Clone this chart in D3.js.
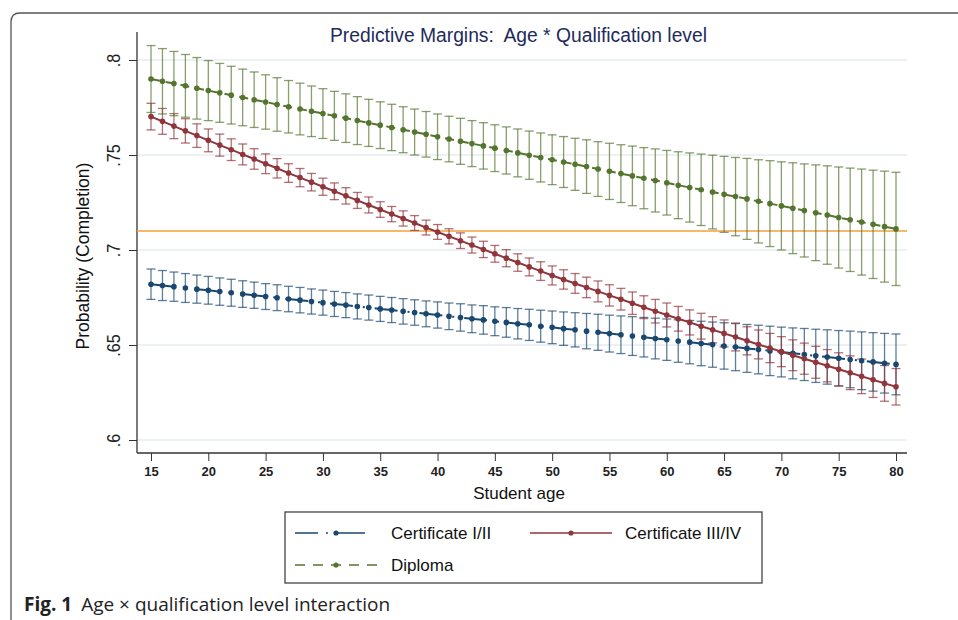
<!DOCTYPE html>
<html>
<head>
<meta charset="utf-8">
<script src="https://cdn.jsdelivr.net/npm/d3@7"></script>
<style>
body{margin:0;background:#fff;}
svg{display:block;}
</style>
</head>
<body>
<svg id="chart" width="958" height="620"></svg>
<script>
// ages 15..80, one point per year
const ages=[15,16,17,18,19,20,21,22,23,24,25,26,27,28,29,30,31,32,33,34,35,36,37,38,39,40,
41,42,43,44,45,46,47,48,49,50,51,52,53,54,55,56,57,58,59,60,61,62,63,64,65,66,67,68,69,70,
71,72,73,74,75,76,77,78,79,80]

// Certificate I/II
const cert12=[.6820,.6813,.6807,.6800,.6794,.6788,.6781,.6775,.6768,.6762,.6755,.6749,.6742,.6736,.6729,.6723,
.6716,.6710,.6703,.6697,.6690,.6684,.6677,.6671,.6664,.6658,.6651,.6645,.6638,.6632,.6625,.6619,.6612,.6606,
.6599,.6593,.6586,.6580,.6573,.6567,.6560,.6554,.6547,.6541,.6534,.6528,.6521,.6515,.6508,.6502,.6495,.6489,
.6482,.6476,.6469,.6463,.6456,.6450,.6443,.6437,.6430,.6424,.6417,.6411,.6404,.6398]
const cert12ci=[.0080,.0079,.0077,.0076,.0074,.0073,.0072,.0071,.0070,.0069,.0068,.0068,.0067,.0067,.0066,.0066,
.0066,.0066,.0066,.0066,.0066,.0066,.0067,.0067,.0068,.0069,.0070,.0072,.0073,.0075,.0076,.0078,.0080,.0082,
.0084,.0086,.0088,.0090,.0093,.0095,.0097,.0099,.0102,.0104,.0107,.0109,.0112,.0114,.0117,.0119,.0122,.0124,
.0126,.0128,.0130,.0131,.0134,.0137,.0140,.0143,.0146,.0149,.0152,.0154,.0157,.0160]

// Certificate III/IV
const cert34=[.7702,.7677,.7652,.7627,.7602,.7577,.7552,.7528,.7503,.7479,.7454,.7430,.7405,.7381,.7357,.7333,
.7309,.7285,.7261,.7237,.7213,.7189,.7166,.7142,.7118,.7095,.7072,.7049,.7026,.7003,.6980,.6957,.6934,.6911,
.6889,.6866,.6845,.6824,.6803,.6782,.6761,.6741,.6720,.6699,.6678,.6658,.6638,.6619,.6599,.6580,.6561,.6542,
.6522,.6503,.6484,.6465,.6446,.6428,.6409,.6391,.6372,.6354,.6335,.6317,.6298,.6280]
const cert34ci=[.0070,.0068,.0066,.0064,.0062,.0060,.0058,.0057,.0055,.0054,.0052,.0051,.0049,.0048,.0046,.0045,
.0044,.0043,.0042,.0042,.0041,.0040,.0040,.0039,.0039,.0039,.0040,.0041,.0042,.0043,.0044,.0045,.0046,.0047,
.0049,.0050,.0051,.0052,.0054,.0055,.0056,.0057,.0059,.0060,.0062,.0063,.0065,.0066,.0068,.0069,.0071,.0073,
.0074,.0076,.0077,.0079,.0081,.0082,.0084,.0085,.0087,.0089,.0091,.0093,.0094,.0096]

// Diploma
const diploma=[.7900,.7888,.7876,.7864,.7851,.7839,.7827,.7815,.7803,.7791,.7779,.7766,.7754,.7742,.7730,.7718,
.7706,.7694,.7681,.7669,.7657,.7645,.7633,.7621,.7609,.7596,.7584,.7572,.7560,.7548,.7536,.7524,.7511,.7499,
.7487,.7475,.7463,.7451,.7439,.7426,.7414,.7402,.7390,.7378,.7366,.7354,.7341,.7329,.7317,.7305,.7293,.7281,
.7269,.7256,.7244,.7232,.7220,.7208,.7196,.7184,.7171,.7159,.7147,.7135,.7123,.7111]
const diplomaci=[.0176,.0172,.0169,.0165,.0162,.0158,.0155,.0152,.0149,.0146,.0143,.0141,.0138,.0136,.0133,.0131,
.0129,.0128,.0126,.0124,.0123,.0122,.0121,.0121,.0120,.0120,.0120,.0121,.0121,.0122,.0123,.0124,.0126,.0127,
.0129,.0131,.0134,.0137,.0141,.0144,.0148,.0152,.0157,.0161,.0166,.0170,.0176,.0182,.0188,.0194,.0200,.0206,
.0213,.0219,.0226,.0232,.0239,.0245,.0252,.0259,.0266,.0272,.0279,.0285,.0292,.0298]

const refLine=.71
const xTicks=[15,20,25,30,35,40,45,50,55,60,65,70,75,80]
const yTicks=[.6,.65,.7,.75,.8]
const yTickLabels=[".6",".65",".7",".75",".8"]

const series=[
 {name:"Certificate I/II",v:cert12,ci:cert12ci,color:"#1a476f",dash:"23,10,2,10"},
 {name:"Certificate III/IV",v:cert34,ci:cert34ci,color:"#90353b",dash:null},
 {name:"Diploma",v:diploma,ci:diplomaci,color:"#55752f",dash:"9,6"}
]

const svg=d3.select("#chart")
const sans="'Liberation Sans',Arial,sans-serif"

// outer frame
svg.append("path")
 .attr("d","M11,620 L11,22 Q11,13 20,13 L960,13")
 .attr("fill","none").attr("stroke","#555").attr("stroke-width",1.3)

const x=d3.scaleLinear().domain([15,80]).range([151,896])
const y=d3.scaleLinear().domain([.6,.8]).range([440,60])
const pLeft=137,pRight=907,pTop=32,pBottom=453

// grid
svg.append("g").selectAll("line").data(yTicks).join("line")
 .attr("x1",pLeft).attr("x2",pRight)
 .attr("y1",d=>y(d)).attr("y2",d=>y(d))
 .attr("stroke","#e6eef0").attr("stroke-width",1.5)

// title (condensed look)
svg.append("text").attr("x",330).attr("y",42)
 .attr("font-family",sans).attr("font-size",20).attr("fill","#1e2b5c")
 .attr("textLength",377).attr("lengthAdjust","spacingAndGlyphs")
 .text("Predictive Margins:\u00a0 Age * Qualification level")

// axes
const xa=svg.append("g").attr("transform",`translate(0,${pBottom})`)
 .call(d3.axisBottom(x).tickValues(xTicks).tickSize(8).tickSizeOuter(0).tickPadding(6))
xa.select(".domain").remove()
xa.selectAll("text").attr("font-family",sans).attr("font-size",13).attr("font-weight","bold").attr("fill","#222")
xa.selectAll("line").attr("stroke","#333")
svg.append("line").attr("x1",pLeft).attr("x2",pRight).attr("y1",pBottom).attr("y2",pBottom).attr("stroke","#333").attr("stroke-width",1.3)

const ya=svg.append("g").attr("transform",`translate(${pLeft},0)`)
 .call(d3.axisLeft(y).tickValues(yTicks).tickFormat((d,i)=>yTickLabels[i]).tickSize(8).tickSizeOuter(0))
ya.select(".domain").remove()
ya.selectAll("line").attr("stroke","#333")
ya.selectAll("text").attr("transform","rotate(-90) scale(0.85,1)").attr("x",0).attr("y",-17).attr("dy",0)
 .attr("text-anchor","middle").attr("font-family",sans).attr("font-size",19).attr("fill","#222")
svg.append("line").attr("x1",pLeft).attr("x2",pLeft).attr("y1",pTop).attr("y2",pBottom).attr("stroke","#333").attr("stroke-width",1.3)

svg.append("text").attr("transform","translate(89,256) rotate(-90)").attr("text-anchor","middle")
 .attr("font-family",sans).attr("font-size",17.5).attr("fill","#111")
 .text("Probability (Completion)")
svg.append("text").attr("x",519).attr("y",499).attr("text-anchor","middle")
 .attr("font-family",sans).attr("font-size",17).attr("fill","#111")
 .text("Student age")

// reference line
svg.append("line").attr("x1",pLeft).attr("x2",pRight).attr("y1",y(refLine)).attr("y2",y(refLine))
 .attr("stroke","#f4a03c").attr("stroke-width",1.6)

// error bars
series.forEach(s=>{
 const g=svg.append("g").attr("stroke",s.color).attr("stroke-opacity",.7).attr("stroke-width",1.3)
 g.selectAll(".v").data(ages).join("line").attr("class","v")
  .attr("x1",d=>x(d)).attr("x2",d=>x(d))
  .attr("y1",(d,i)=>y(s.v[i]+s.ci[i])).attr("y2",(d,i)=>y(s.v[i]-s.ci[i]))
 g.selectAll(".t").data(ages).join("line").attr("class","t")
  .attr("x1",d=>x(d)-4.5).attr("x2",d=>x(d)+4.5)
  .attr("y1",(d,i)=>y(s.v[i]+s.ci[i])).attr("y2",(d,i)=>y(s.v[i]+s.ci[i]))
 g.selectAll(".b").data(ages).join("line").attr("class","b")
  .attr("x1",d=>x(d)-4.5).attr("x2",d=>x(d)+4.5)
  .attr("y1",(d,i)=>y(s.v[i]-s.ci[i])).attr("y2",(d,i)=>y(s.v[i]-s.ci[i]))
})

// lines and markers
const line=d3.line().x((d,i)=>x(ages[i])).y(d=>y(d))
series.forEach(s=>{
 svg.append("path").datum(s.v).attr("d",line).attr("fill","none")
  .attr("stroke",s.color).attr("stroke-width",2)
  .attr("stroke-dasharray",s.dash)
 svg.append("g").selectAll("circle").data(s.v).join("circle")
  .attr("cx",(d,i)=>x(ages[i])).attr("cy",d=>y(d)).attr("r",2.8).attr("fill",s.color)
})

// legend
const lg=svg.append("g")
lg.append("rect").attr("x",285).attr("y",512).attr("width",477).attr("height",71)
 .attr("fill","#fff").attr("stroke","#444").attr("stroke-width",1.3)
const legPos=[{x:295,y:533,tx:391,w:70,m:41,dash:"23,8,2,8,40"},
 {x:530,y:533,tx:625,w:82,m:41,dash:null},
 {x:295,y:565,tx:391,w:82,m:41,dash:"10,8"}]
series.forEach((s,i)=>{
 const p=legPos[i]
 lg.append("line").attr("x1",p.x).attr("x2",p.x+p.w).attr("y1",p.y).attr("y2",p.y)
  .attr("stroke",s.color).attr("stroke-width",1.6).attr("stroke-dasharray",p.dash)
 lg.append("circle").attr("cx",p.x+p.m).attr("cy",p.y).attr("r",2.6).attr("fill",s.color)
 lg.append("text").attr("x",p.tx).attr("y",p.y+6).attr("font-family",sans)
  .attr("font-size",17).attr("fill","#111").text(s.name)
})

// caption
const cap=svg.append("text").attr("x",24).attr("y",611).attr("font-family","'Open Sans','Noto Sans',sans-serif")
 .attr("font-size",19).attr("fill","#222")
cap.append("tspan").attr("font-weight","bold").text("Fig. 1")
cap.append("tspan").attr("dx",9).text("Age \u00d7 qualification level interaction")
</script>
</body>
</html>
